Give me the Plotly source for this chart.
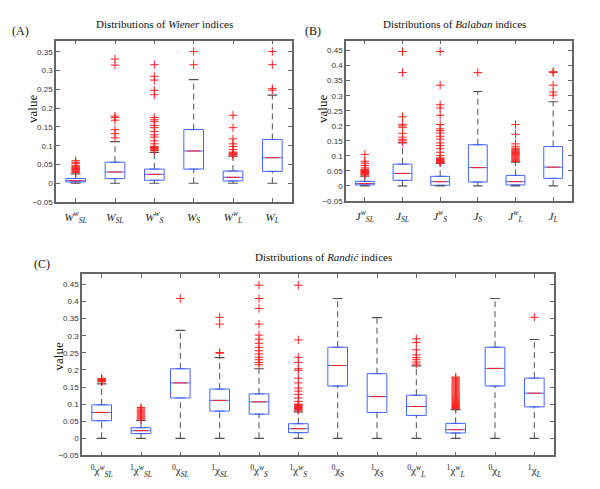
import plotly.graph_objects as go

FIG_W, FIG_H = 600, 489

# ---------------- Panel A: Wiener ----------------
a_labels = ["<i>W</i><sup><i>w</i></sup><sub><i>SL</i></sub>", "<i>W</i><sub><i>SL</i></sub>",
            "<i>W</i><sup><i>w</i></sup><sub><i>S</i></sub>", "<i>W</i><sub><i>S</i></sub>",
            "<i>W</i><sup><i>w</i></sup><sub><i>L</i></sub>", "<i>W</i><sub><i>L</i></sub>"]
a_q1 = [0.0035, 0.0123, 0.0079, 0.0377, 0.0061, 0.0316]
a_med = [0.0065, 0.030, 0.0237, 0.086, 0.0158, 0.068]
a_q3 = [0.0125, 0.056, 0.0377, 0.143, 0.0325, 0.1167]
a_lo = [0.0, 0.0, 0.0, 0.0, 0.0, 0.0]
a_hi = [0.025, 0.111, 0.0825, 0.276, 0.072, 0.235]
a_out = [
    [0.029, 0.031, 0.033, 0.035, 0.037, 0.039, 0.041, 0.043, 0.045, 0.048, 0.053, 0.056, 0.060],
    [0.121, 0.132, 0.143, 0.168, 0.175, 0.179, 0.315, 0.331],
    [0.087, 0.089, 0.091, 0.093, 0.095, 0.098, 0.105, 0.113, 0.123, 0.129, 0.138, 0.148,
     0.154, 0.164, 0.169, 0.175, 0.236, 0.248, 0.275, 0.285, 0.316],
    [0.316, 0.351],
    [0.075, 0.077, 0.079, 0.081, 0.083, 0.090, 0.098, 0.105, 0.118, 0.148, 0.181],
    [0.248, 0.252, 0.316, 0.351],
]

# ---------------- Panel B: Balaban ----------------
b_labels = ["<i>J</i><sup><i>w</i></sup><sub><i>SL</i></sub>", "<i>J</i><sub><i>SL</i></sub>",
            "<i>J</i><sup><i>w</i></sup><sub><i>S</i></sub>", "<i>J</i><sub><i>S</i></sub>",
            "<i>J</i><sup><i>w</i></sup><sub><i>L</i></sub>", "<i>J</i><sub><i>L</i></sub>"]
b_q1 = [0.0033, 0.0187, 0.0022, 0.0132, 0.0033, 0.0253]
b_med = [0.0077, 0.0418, 0.0143, 0.061, 0.0143, 0.0626]
b_q3 = [0.0154, 0.0725, 0.032, 0.137, 0.035, 0.131]
b_lo = [0.0, 0.0, 0.0, 0.0, 0.0, 0.0]
b_hi = [0.033, 0.143, 0.0747, 0.314, 0.079, 0.280]
b_out = [
    [0.037, 0.039, 0.041, 0.043, 0.045, 0.047, 0.049, 0.051, 0.053, 0.055, 0.060, 0.068,
     0.076, 0.082, 0.105],
    [0.145, 0.150, 0.155, 0.162, 0.175, 0.195, 0.200, 0.205, 0.230, 0.377, 0.447],
    [0.077, 0.079, 0.081, 0.083, 0.085, 0.087, 0.089, 0.091, 0.093, 0.101, 0.112, 0.124,
     0.134, 0.143, 0.156, 0.165, 0.176, 0.184, 0.190, 0.204, 0.235, 0.259, 0.270, 0.335, 0.447],
    [0.377],
    [0.081, 0.084, 0.087, 0.090, 0.093, 0.096, 0.099, 0.102, 0.105, 0.108, 0.111, 0.114,
     0.117, 0.120, 0.123, 0.126, 0.132, 0.140, 0.172, 0.204],
    [0.302, 0.312, 0.335, 0.377, 0.380],
]

# ---------------- Panel C: Randic ----------------
c_labels = ["<sup>0</sup>χ<sup><i>w</i></sup><sub><i>SL</i></sub>", "<sup>1</sup>χ<sup><i>w</i></sup><sub><i>SL</i></sub>",
            "<sup>0</sup>χ<sub><i>SL</i></sub>", "<sup>1</sup>χ<sub><i>SL</i></sub>",
            "<sup>0</sup>χ<sup><i>w</i></sup><sub><i>S</i></sub>", "<sup>1</sup>χ<sup><i>w</i></sup><sub><i>S</i></sub>",
            "<sup>0</sup>χ<sub><i>S</i></sub>", "<sup>1</sup>χ<sub><i>S</i></sub>",
            "<sup>0</sup>χ<sup><i>w</i></sup><sub><i>L</i></sub>", "<sup>1</sup>χ<sup><i>w</i></sup><sub><i>L</i></sub>",
            "<sup>0</sup>χ<sub><i>L</i></sub>", "<sup>1</sup>χ<sub><i>L</i></sub>"]
c_q1 = [0.0514, 0.0136, 0.118, 0.0795, 0.0707, 0.0165, 0.153, 0.0756, 0.0669, 0.0155, 0.153, 0.092]
c_med = [0.0756, 0.0223, 0.162, 0.111, 0.1066, 0.0281, 0.213, 0.122, 0.093, 0.0252, 0.2045, 0.132]
c_q3 = [0.0979, 0.031, 0.2035, 0.144, 0.130, 0.0426, 0.2665, 0.189, 0.126, 0.0436, 0.2665, 0.176]
c_lo = [0.0] * 12
c_hi = [0.159, 0.052, 0.316, 0.236, 0.2035, 0.0775, 0.409, 0.353, 0.212, 0.084, 0.409, 0.289]
c_out = [
    [0.165, 0.167, 0.169, 0.171, 0.173, 0.175],
    [0.056, 0.059, 0.062, 0.065, 0.068, 0.071, 0.074, 0.077, 0.080, 0.083, 0.086, 0.090],
    [0.409],
    [0.249, 0.251, 0.334, 0.354],
    [0.215, 0.222, 0.230, 0.237, 0.247, 0.256, 0.266, 0.278, 0.290, 0.302, 0.334, 0.380, 0.409, 0.448],
    [0.082, 0.084, 0.086, 0.088, 0.090, 0.092, 0.094, 0.096, 0.098, 0.100, 0.108, 0.118,
     0.128, 0.138, 0.147, 0.162, 0.176, 0.199, 0.2035, 0.222, 0.237, 0.288, 0.448],
    [],
    [],
    [0.217, 0.223, 0.230, 0.236, 0.244, 0.259, 0.280, 0.291],
    [0.087, 0.090, 0.093, 0.096, 0.099, 0.102, 0.105, 0.108, 0.111, 0.114, 0.117, 0.120,
     0.123, 0.126, 0.129, 0.132, 0.135, 0.138, 0.141, 0.144, 0.147, 0.150, 0.153, 0.156,
     0.159, 0.162, 0.165, 0.168, 0.171, 0.174, 0.177, 0.179],
    [],
    [0.354],
]

BLUE = "#4466ff"
RED = "#ff2020"
GRAY = "#505050"
BOX_W = 0.5
CAP_HW = 0.125
MED_HW = 0.17

fig = go.Figure()


def add_panel(q1, med, q3, lo, hi, outs, xa, ya):
    xs = list(range(1, len(q1) + 1))
    fig.add_trace(go.Box(
        x=xs, q1=q1, median=med, q3=q3, lowerfence=q1, upperfence=q3,
        width=BOX_W, line=dict(color=BLUE, width=1), fillcolor="rgba(255,255,255,0)",
        boxpoints=False, hoverinfo="skip", showlegend=False, xaxis=xa, yaxis=ya))
    # whiskers (dashed)
    wx, wy = [], []
    for i, x in enumerate(xs):
        wx += [x, x, None, x, x, None]
        wy += [q3[i], hi[i], None, lo[i], q1[i], None]
    fig.add_trace(go.Scatter(x=wx, y=wy, mode="lines", line=dict(color=GRAY, width=1, dash="6px,4px"),
                             hoverinfo="skip", showlegend=False, xaxis=xa, yaxis=ya))
    # caps
    cx, cy = [], []
    for i, x in enumerate(xs):
        cx += [x - CAP_HW, x + CAP_HW, None, x - CAP_HW, x + CAP_HW, None]
        cy += [hi[i], hi[i], None, lo[i], lo[i], None]
    fig.add_trace(go.Scatter(x=cx, y=cy, mode="lines", line=dict(color=GRAY, width=1.2),
                             hoverinfo="skip", showlegend=False, xaxis=xa, yaxis=ya))
    # medians
    mx, my = [], []
    for i, x in enumerate(xs):
        mx += [x - MED_HW, x + MED_HW, None]
        my += [med[i], med[i], None]
    fig.add_trace(go.Scatter(x=mx, y=my, mode="lines", line=dict(color=RED, width=1),
                             hoverinfo="skip", showlegend=False, xaxis=xa, yaxis=ya))
    # outliers
    ox, oy = [], []
    for i, x in enumerate(xs):
        for v in outs[i]:
            ox.append(x)
            oy.append(v)
    fig.add_trace(go.Scatter(x=ox, y=oy, mode="markers",
                             marker=dict(symbol="cross-thin", size=6, line=dict(color=RED, width=1)),
                             hoverinfo="skip", showlegend=False, xaxis=xa, yaxis=ya))


add_panel(a_q1, a_med, a_q3, a_lo, a_hi, a_out, "x", "y")
add_panel(b_q1, b_med, b_q3, b_lo, b_hi, b_out, "x2", "y2")
add_panel(c_q1, c_med, c_q3, c_lo, c_hi, c_out, "x3", "y3")


def px_x(v):
    return v / FIG_W


def px_y(v):
    return 1 - v / FIG_H


AX_LINE = "#666666"
ytick_font = dict(family="Liberation Sans, Arial", size=8, color="#333333")
xtick_font = dict(family="Liberation Serif, Times New Roman", size=11, color="#222222")


def xaxis_cfg(dom, n, labels, anchor):
    return dict(domain=dom, range=[0.5, n + 0.5], tickmode="array", tickvals=list(range(1, n + 1)),
                ticktext=labels, showgrid=False, zeroline=False, showline=True, linecolor=AX_LINE,
                linewidth=1.5, mirror="allticks", ticks="inside", ticklen=4, tickcolor=AX_LINE,
                tickfont=xtick_font, anchor=anchor, ticklabelstandoff=4)


def yaxis_cfg(dom, top, anchor):
    return dict(domain=dom, range=[-0.05, top], tick0=0, dtick=0.05, showgrid=False, zeroline=False,
                showline=True, linecolor=AX_LINE, linewidth=1.5, mirror="allticks", ticks="inside",
                ticklen=4, tickcolor=AX_LINE, tickfont=ytick_font, anchor=anchor)


fig.update_layout(
    width=FIG_W, height=FIG_H, margin=dict(l=0, r=0, t=0, b=0),
    paper_bgcolor="white", plot_bgcolor="white",
    xaxis=xaxis_cfg([px_x(48), px_x(284)], 6, a_labels, "y"),
    yaxis=yaxis_cfg([px_y(196), px_y(33)], 0.38, "x"),
    xaxis2=xaxis_cfg([px_x(338), px_x(564)], 6, b_labels, "y2"),
    yaxis2=yaxis_cfg([px_y(195), px_y(33)], 0.483, "x2"),
    xaxis3=xaxis_cfg([px_x(74), px_x(546)], 12, c_labels, "y3"),
    yaxis3=yaxis_cfg([px_y(452), px_y(269)], 0.48, "x3"),
)

serif = "Liberation Serif, Times New Roman"
ann = [
    dict(text="Distributions of <i>Wiener</i> indices", x=px_x(156), y=px_y(16), size=11),
    dict(text="Distributions of <i>Balaban</i> indices", x=px_x(446), y=px_y(16), size=11),
    dict(text="Distributions of <i>Randić</i> indices", x=px_x(315), y=px_y(252), size=11),
    dict(text="(A)", x=px_x(12), y=px_y(23), size=12),
    dict(text="(B)", x=px_x(305), y=px_y(23), size=12),
    dict(text="(C)", x=px_x(34), y=px_y(259), size=12),
]
for a in ann:
    fig.add_annotation(text=a["text"], x=a["x"], y=a["y"], xref="paper", yref="paper",
                       showarrow=False, xanchor="center", yanchor="middle",
                       font=dict(family=serif, size=a["size"], color="#111111"))
for (x, y) in [(25, 102), (315, 102), (50, 352)]:
    fig.add_annotation(text="value", x=px_x(x), y=px_y(y), xref="paper", yref="paper",
                       showarrow=False, textangle=-90, xanchor="center", yanchor="middle",
                       font=dict(family=serif, size=13, color="#111111"))

fig.write_html("out.html")
